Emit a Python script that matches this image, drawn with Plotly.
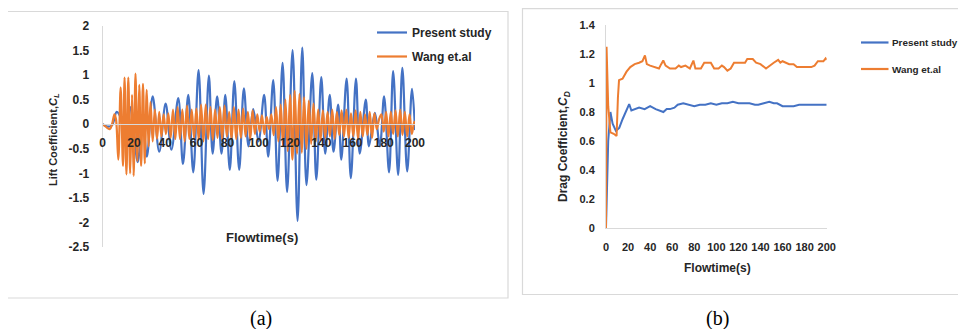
import plotly.graph_objects as go

# ---------------- data ----------------
x_ticks = [0, 20, 40, 60, 80, 100, 120, 140, 160, 180, 200]
x_ticktext = ["0", "20", "40", "60", "80", "100", "120", "140", "160", "180", "200"]
lift_yticks = [2, 1.5, 1, 0.5, 0, -0.5, -1, -1.5, -2, -2.5]
lift_yticktext = ["2", "1.5", "1", "0.5", "0", "-0.5", "-1", "-1.5", "-2", "-2.5"]
drag_yticks = [1.4, 1.2, 1.0, 0.8, 0.6, 0.4, 0.2, 0]
drag_yticktext = ["1.4", "1.2", "1", "0.8", "0.6", "0.4", "0.2", "0"]
series_names = ["Present study", "Wang et.al"]

# Lift coefficient, present study (extrema)
lift_present_t = [0, 3, 6, 9, 12, 15, 18, 22.4, 25.5, 28.3, 32, 36.2, 40.3, 44, 48.4, 51.4,
                  54.8, 58, 61.4, 64.6, 68, 70.4, 73.3, 76.1, 78.5, 81.4, 84.3, 87.4, 90.4,
                  93.4, 96.4, 99.8, 103.4, 106, 109.2, 112, 115.2, 118.1, 121.6, 124.8,
                  127.8, 130.5, 134.2, 136.8, 140, 142.5, 145.4, 147.8, 150.8, 152.8, 156.2,
                  158.9, 162.2, 164.6, 168.5, 170.5, 174.3, 177.5, 180.2, 183.4, 186, 189.2,
                  191.9, 195, 198.1, 200]
lift_present_v = [0, -0.05, -0.02, 0.25, 0.1, -0.3, 0.35, -0.77, 0.15, -0.66, 0.57, -0.56, 0.42,
                  -0.52, 0.53, -0.81, 0.6, -0.98, 1.1, -1.42, 0.99, -0.6, 0.57, -0.6, 0.6, -0.93,
                  0.88, -0.93, 0.73, -0.45, 0.31, -0.35, 0.6, -0.66, 0.9, -1.15, 1.25, -1.38,
                  1.51, -1.97, 1.56, -1.24, 1.04, -1.13, 0.96, -0.6, 0.6, -0.56, 0.4, -0.72,
                  0.93, -1.1, 0.93, -0.6, 0.5, -0.45, 0.23, -0.45, 0.57, -0.98, 1.08, -1.03,
                  1.15, -0.96, 0.72, -0.12]

# Lift coefficient, Wang et al. (extrema)
lift_wang_t = [0, 2, 4.5, 6, 7.5, 8.5, 10, 11.5, 13, 14, 15.2, 16.4, 17.6, 18.8, 19.8, 21, 22.2,
               23.4, 24.6, 25.8, 27, 28.2, 29.4, 30.6, 32, 33.4, 34.8, 36.2, 37.6, 39, 40.5,
               42, 43.5, 45, 46.5, 48, 49.5, 51, 52.5, 54, 55.5, 57, 58.5, 60, 61.5, 63, 64.5,
               66, 67.5, 69, 70.5, 72, 73.5, 75, 76.5, 78, 79.5, 81, 82.5, 84, 85.5, 87, 88.5,
               90, 91.5, 93, 94.5, 96, 97.5, 99, 100.5, 102, 103.5, 105, 106.5, 108, 109.5,
               111, 112.5, 114, 115.5, 117, 118.5, 120, 121.5, 123, 124.5, 126, 127.5, 129,
               130.5, 132, 133.5, 135, 136.5, 138, 139.5, 141, 142.5, 144, 145.5, 147, 148.5,
               150, 151.5, 153, 154.5, 156, 157.5, 159, 160.5, 162, 163.5, 165, 166.5, 168,
               169.5, 171, 172.5, 174, 175.5, 177, 178.5, 180, 181.5, 183, 184.5, 186, 187.5,
               189, 190.5, 192, 193.5, 195, 196.5, 198, 199.5, 200]
lift_wang_v = [0, -0.05, -0.1, 0.0, 0.2, 0.1, -0.72, 0.75, -0.85, 0.95, -1.02, 0.95, -1.0, 0.6,
               -1.05, 1.03, -0.75, 0.8, -0.85, 0.82, -0.8, 0.7, -0.45, 0.45, -0.35, 0.3, -0.3,
               0.25, -0.25, 0.2, -0.2, 0.22, -0.28, 0.3, -0.3, 0.35, -0.3, 0.3, -0.35, 0.38,
               -0.3, 0.3, -0.28, 0.32, -0.32, 0.4, -0.35, 0.4, -0.3, 0.35, -0.32, 0.3, -0.28,
               0.35, -0.3, 0.38, -0.25, 0.25, -0.3, 0.35, -0.3, 0.3, -0.28, 0.32, -0.25, 0.25,
               -0.3, 0.28, -0.2, 0.2, -0.15, 0.18, -0.2, 0.15, -0.1, 0.2, -0.22, 0.35, -0.35,
               0.4, -0.45, 0.5, -0.55, 0.6, -0.72, 0.68, -0.6, 0.62, -0.58, 0.55, -0.5, 0.48,
               -0.4, 0.42, -0.35, 0.3, -0.32, 0.28, -0.28, 0.25, -0.25, 0.3, -0.3, 0.25, -0.22,
               0.28, -0.25, 0.3, -0.28, 0.22, -0.25, 0.28, -0.3, 0.25, -0.25, 0.2, -0.22, 0.25,
               -0.28, 0.22, -0.1, 0.1, 0.2, -0.15, 0.25, -0.25, 0.25, -0.2, 0.28, -0.25, 0.3,
               -0.22, 0.25, -0.25, 0.2, -0.2, 0.05, 0.0]

# Drag coefficient, present study
drag_present_t = [0, 2, 4, 6, 9, 12, 15, 18, 21, 23, 26, 30, 35, 40, 45, 49, 52, 55, 58, 62, 65,
                  70, 75, 80, 85, 90, 95, 100, 105, 110, 115, 120, 125, 130, 135, 138, 143, 148,
                  152, 155, 160, 165, 170, 175, 180, 185, 190, 195, 200]
drag_present_v = [0, 0.6, 0.8, 0.72, 0.67, 0.69, 0.75, 0.8, 0.855, 0.81, 0.82, 0.83, 0.82, 0.84,
                  0.82, 0.81, 0.8, 0.82, 0.82, 0.83, 0.85, 0.86, 0.85, 0.84, 0.85, 0.85, 0.86,
                  0.85, 0.86, 0.86, 0.87, 0.86, 0.86, 0.86, 0.85, 0.85, 0.86, 0.87, 0.86, 0.86,
                  0.84, 0.84, 0.84, 0.85, 0.85, 0.85, 0.85, 0.85, 0.85]

# Drag coefficient, Wang et al.
drag_wang_t = [0, 0.5, 2, 4, 7, 9.6, 10.8, 11.8, 15, 18.6, 22, 26, 30, 33, 35.3, 37, 40, 45,
               48, 50, 51.9, 54, 58, 63, 66, 68, 72, 76, 79.2, 81, 86, 89, 95, 98, 102, 105,
               107, 110, 113, 116, 122, 126, 128, 133, 136, 140, 145, 148, 152, 156, 158, 160,
               163, 166, 170, 173, 180, 186, 189, 192, 197, 199, 200]
drag_wang_v = [0, 1.25, 0.84, 0.66, 0.65, 0.634, 0.9, 1.02, 1.03, 1.078, 1.11, 1.13, 1.14, 1.15,
               1.19, 1.13, 1.12, 1.11, 1.1, 1.13, 1.155, 1.12, 1.1, 1.1, 1.12, 1.11, 1.12, 1.1,
               1.155, 1.1, 1.1, 1.14, 1.14, 1.1, 1.1, 1.12, 1.11, 1.085, 1.1, 1.14, 1.14, 1.14,
               1.165, 1.165, 1.14, 1.13, 1.1, 1.12, 1.14, 1.16, 1.14, 1.15, 1.14, 1.13, 1.13,
               1.11, 1.11, 1.11, 1.12, 1.15, 1.15, 1.17, 1.16]

BLUE = "#4472C4"
ORANGE = "#ED7D31"
COLORS = [BLUE, ORANGE]
FONT = "Liberation Sans"
TXT = "#262626"
OFF = 8            # the page places the figure 8 px from the window's top-left corner
W, H = 966 - 2 * OFF, 329 - OFF


def px(x):
    return (x - OFF) / W


def py(y):
    return 1 - (y - OFF) / H


fig = go.Figure()
fig.add_trace(go.Scatter(x=lift_present_t, y=lift_present_v, mode="lines", name=series_names[0],
                         line=dict(color=BLUE, width=2.2, shape="spline", smoothing=1.0),
                         xaxis="x", yaxis="y", legendgroup="a1"))
fig.add_trace(go.Scatter(x=lift_wang_t, y=lift_wang_v, mode="lines", name=series_names[1],
                         line=dict(color=ORANGE, width=2.2, shape="spline", smoothing=1.0),
                         xaxis="x", yaxis="y", legendgroup="a2"))
fig.add_trace(go.Scatter(x=drag_present_t, y=drag_present_v, mode="lines", name=series_names[0],
                         line=dict(color=BLUE, width=2), showlegend=False,
                         xaxis="x2", yaxis="y2"))
fig.add_trace(go.Scatter(x=drag_wang_t, y=drag_wang_v, mode="lines", name=series_names[1],
                         line=dict(color=ORANGE, width=2), showlegend=False,
                         xaxis="x2", yaxis="y2"))

tickfont = dict(family=FONT, size=12, color=TXT, weight="bold")
tickfont_b = dict(family=FONT, size=11, color=TXT, weight="bold")
axis_common = dict(showgrid=False, zeroline=False, showline=True, linecolor="#d9d9d9",
                   linewidth=1, ticks="outside", tickcolor="rgba(0,0,0,0)", tickangle=0,
                   automargin=False)


def ann(text, x, y, size, angle=0, family=FONT, weight="bold", xanchor="center", color=TXT):
    return dict(text=text, x=px(x), y=py(y), xref="paper", yref="paper", showarrow=False,
                textangle=angle, xanchor=xanchor, yanchor="middle",
                font=dict(family=family, size=size, color=color, weight=weight))


# legend of panel (b), drawn beside the plot (line keys + labels)
legend_b_shapes = []
legend_b_anns = []
for i, (name, col) in enumerate(zip(series_names, COLORS)):
    yy = 42.5 + i * 26.5
    legend_b_shapes.append(dict(type="line", xref="paper", yref="paper", x0=px(861), x1=px(888.5),
                                y0=py(yy), y1=py(yy), line=dict(color=col, width=2.2)))
    legend_b_anns.append(ann(name, 890, yy, 9.9, xanchor="left"))

fig.update_layout(
    template="none",
    width=W, height=H, margin=dict(l=0, r=0, t=0, b=0, autoexpand=False),
    paper_bgcolor="white", plot_bgcolor="white",
    xaxis=dict(domain=[px(102.7), px(415)], range=[0, 200], anchor="free", position=py(124.2),
               tickvals=x_ticks, ticktext=x_ticktext, ticklen=7, tickfont=tickfont, **axis_common),
    yaxis=dict(domain=[py(247), py(26)], range=[-2.5, 2], anchor="x",
               tickvals=lift_yticks, ticktext=lift_yticktext, ticklen=10, tickfont=tickfont,
               **axis_common),
    xaxis2=dict(domain=[px(606), px(826.7)], range=[0, 200], anchor="y2",
                tickvals=x_ticks, ticktext=x_ticktext, ticklen=9, tickfont=tickfont_b,
                **axis_common),
    yaxis2=dict(domain=[py(228), py(25)], range=[0, 1.4], anchor="x2",
                tickvals=drag_yticks, ticktext=drag_yticktext, ticklen=8, tickfont=tickfont_b,
                **axis_common),
    legend=dict(x=px(372), y=py(18), xanchor="left", yanchor="top", bgcolor="rgba(0,0,0,0)",
                font=dict(family=FONT, size=12, color=TXT, weight="bold"),
                tracegroupgap=5, traceorder="grouped", borderwidth=0),
    shapes=[
        dict(type="rect", xref="paper", yref="paper", x0=px(7), x1=px(508), y0=py(298), y1=py(11.5),
             line=dict(color="#d9d9d9", width=1.2), fillcolor="rgba(0,0,0,0)", layer="below"),
        dict(type="rect", xref="paper", yref="paper", x0=px(522.5), x1=px(990), y0=py(294.5), y1=py(8.6),
             line=dict(color="#d9d9d9", width=1.2), fillcolor="rgba(0,0,0,0)", layer="below"),
    ] + legend_b_shapes,
    annotations=[
        ann("Flowtime(s)", 262, 237, 13),
        ann("Lift Coefficient,<i>C<sub>L</sub></i>", 54, 140, 11, angle=-90),
        ann("Flowtime(s)", 717, 268, 12),
        ann("Drag Coefficient,<i>C<sub>D</sub></i>", 564, 147, 12, angle=-90),
        ann("(a)", 261, 318, 20, family="Liberation Serif", weight="normal", color="black"),
        ann("(b)", 717, 318, 20, family="Liberation Serif", weight="normal", color="black"),
    ] + legend_b_anns,
)

fig.write_html("out.html")
